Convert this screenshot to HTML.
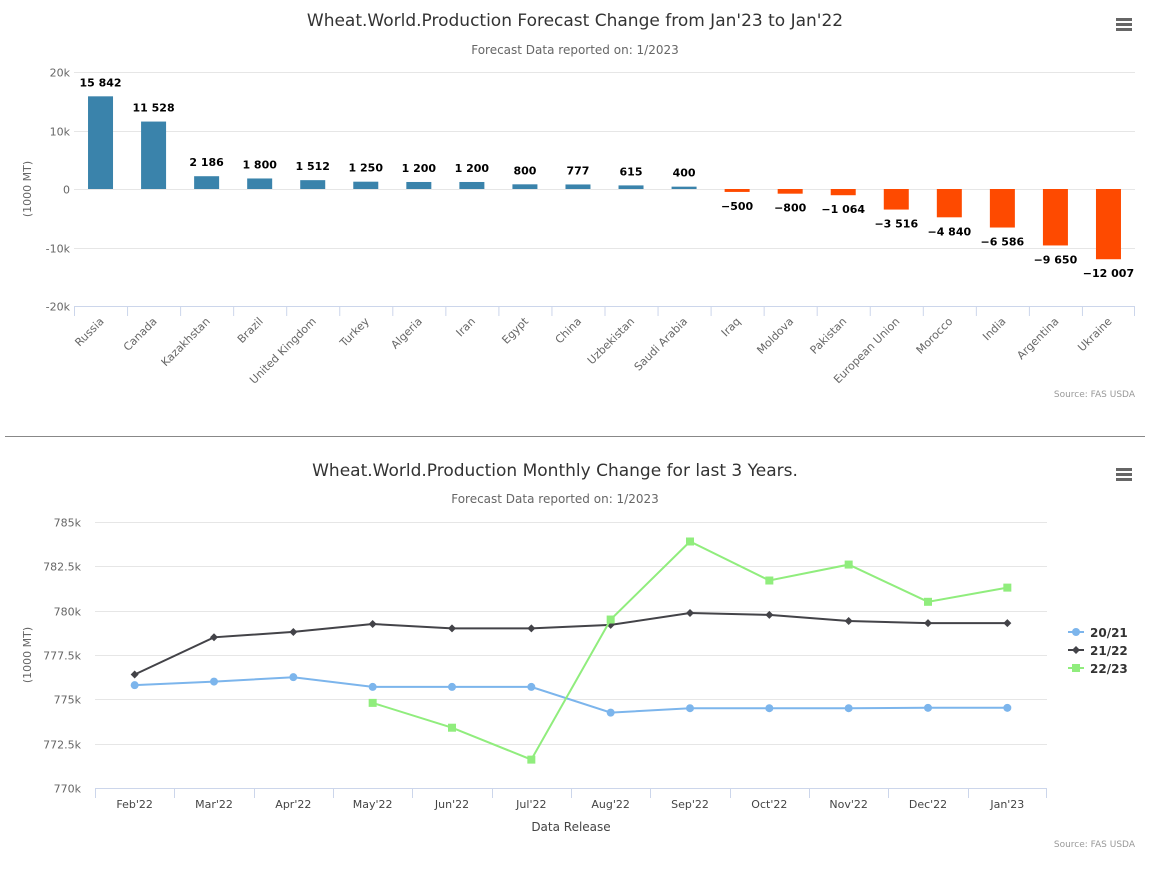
<!DOCTYPE html>
<html><head><meta charset="utf-8">
<style>
body{margin:0;background:#fff;font-family:"DejaVu Sans","Liberation Sans",sans-serif;}
svg{display:block}
text{font-family:"DejaVu Sans","Liberation Sans",sans-serif;}
</style></head>
<body>
<svg id="c" width="1153" height="876" xmlns="http://www.w3.org/2000/svg">
  <rect x="0" y="0" width="1153" height="876" fill="#fff"/>
  <text x="575" y="26" text-anchor="middle" font-size="17" fill="#333">Wheat.World.Production Forecast Change from Jan'23 to Jan'22</text>
  <text x="575" y="54" text-anchor="middle" font-size="12" fill="#666">Forecast Data reported on: 1/2023</text>
  <g><rect x="1116" y="18" width="16" height="3" fill="#666"/><rect x="1116" y="23" width="16" height="3" fill="#666"/><rect x="1116" y="28" width="16" height="3" fill="#666"/></g>
  <text x="31" y="189" text-anchor="middle" font-size="11" fill="#666" transform="rotate(-90 31 189)">(1000 MT)</text>
  <g id="bars"></g>
  <text x="1135" y="397" text-anchor="end" font-size="9" fill="#999">Source: FAS USDA</text>
  <line x1="5" y1="436.5" x2="1145" y2="436.5" stroke="#888" stroke-width="1"/>
  <text x="555" y="476" text-anchor="middle" font-size="17" fill="#333">Wheat.World.Production Monthly Change for last 3 Years.</text>
  <text x="555" y="503" text-anchor="middle" font-size="12" fill="#666">Forecast Data reported on: 1/2023</text>
  <g><rect x="1116" y="468" width="16" height="3" fill="#666"/><rect x="1116" y="473" width="16" height="3" fill="#666"/><rect x="1116" y="478" width="16" height="3" fill="#666"/></g>
  <text x="31" y="655" text-anchor="middle" font-size="11" fill="#666" transform="rotate(-90 31 655)">(1000 MT)</text>
  <text x="571" y="831" text-anchor="middle" font-size="12" fill="#444">Data Release</text>
  <g id="lines"></g>
  <text x="1135" y="847" text-anchor="end" font-size="9" fill="#999">Source: FAS USDA</text>
</svg>
<script>
const barCategories=["Russia","Canada","Kazakhstan","Brazil","United Kingdom","Turkey","Algeria","Iran","Egypt","China","Uzbekistan","Saudi Arabia","Iraq","Moldova","Pakistan","European Union","Morocco","India","Argentina","Ukraine"];
const barValues=[15842,11528,2186,1800,1512,1250,1200,1200,800,777,615,400,-500,-800,-1064,-3516,-4840,-6586,-9650,-12007];
const barTickValues=[20000,10000,0,-10000,-20000];
const barTickLabels=["20k","10k","0","-10k","-20k"];

const lineCategories=["Feb'22","Mar'22","Apr'22","May'22","Jun'22","Jul'22","Aug'22","Sep'22","Oct'22","Nov'22","Dec'22","Jan'23"];
const series2021=[775.8,776.0,776.25,775.7,775.7,775.7,774.25,774.5,774.5,774.5,774.52,774.52];
const series2122=[776.4,778.5,778.8,779.25,779.0,779.0,779.2,779.87,779.76,779.42,779.3,779.3];
const series2223=[null,null,null,774.8,773.4,771.6,779.5,783.9,781.7,782.6,780.5,781.3];
const lineTickValues=[785,782.5,780,777.5,775,772.5,770];
const lineTickLabels=["785k","782.5k","780k","777.5k","775k","772.5k","770k"];
const seriesNames=["20/21","21/22","22/23"];

const NS="http://www.w3.org/2000/svg";
function mk(tag,attrs,parent,txt){const e=document.createElementNS(NS,tag);for(const k in attrs)e.setAttribute(k,attrs[k]);if(txt!==undefined)e.textContent=txt;parent.appendChild(e);return e;}
function fmt(v){const s=Math.abs(v).toString().replace(/\B(?=(\d{3})+(?!\d))/g," ");return (v<0?"−":"")+s;}

// Bar chart
const bg=document.getElementById('bars');
const bL=74,bR=1135,bT=72,bB=306;
const bY=v=>bB-(v-(-20000))/40000*(bB-bT);
const bW=(bR-bL)/barCategories.length;
const bX=i=>bL+bW*(i+0.5);
barTickValues.forEach((v,i)=>{
  const y=Math.round(bY(v))+0.5;
  const gl=mk('line',{x1:bL,x2:bR,y1:y,y2:y,stroke:i==4?'#ccd6eb':'#e6e6e6'},bg);
  
  
  const t=mk('text',{x:bL-4,y:y+4,'text-anchor':'end','font-size':11,fill:'#666'},bg,barTickLabels[i]);
  
  
});
barCategories.forEach((c,i)=>{
  const x0=bL+bW*i;
  const tk=mk('line',{x1:x0+0.5,x2:x0+0.5,y1:bB,y2:bB+10,stroke:'#ccd6eb'},bg);
  
  
  const v=barValues[i];
  const y0=bY(0),y1=bY(v);
  const r=mk('rect',{x:bX(i)-12.5,y:Math.min(y0,y1),width:25,height:Math.max(1,Math.abs(y1-y0)),fill:v>=0?'#3a83ab':'#fe4a00'},bg);
  
  
  const ly=v>=0?y1-10:y1+18;
  const lb=mk('text',{x:bX(i),y:ly,'text-anchor':'middle','font-size':11,fill:'#000','font-weight':'600'},bg,fmt(v));
  
  
  const tx=mk('text',{x:bX(i)+4,y:bB+16,'text-anchor':'end','font-size':11,fill:'#666',transform:`rotate(-45 ${bX(i)+4} ${bB+16})`},bg,c);
  
  
});
mk('line',{x1:bR-0.5,x2:bR-0.5,y1:bB,y2:bB+10,stroke:'#ccd6eb'},bg);

// Line chart
const lg=document.getElementById('lines');
const lL=95,lR=1047,lT=522,lB=788;
const lY=v=>lB-(v-770)/15*(lB-lT);
const lW=(lR-lL)/lineCategories.length;
const lX=i=>lL+lW*(i+0.5);
lineTickValues.forEach((v,i)=>{
  const y=Math.round(lY(v))+0.5;
  const gl=mk('line',{x1:lL,x2:lR,y1:y,y2:y,stroke:i==6?'#ccd6eb':'#e6e6e6'},lg);
  
  
  const t=mk('text',{x:lL-14,y:y+4,'text-anchor':'end','font-size':11,fill:'#666'},lg,lineTickLabels[i]);
  
  
});
lineCategories.forEach((c,i)=>{
  const x0=Math.round(lL+lW*i)+0.5;
  const tk=mk('line',{x1:x0,x2:x0,y1:lB,y2:lB+10,stroke:'#ccd6eb'},lg);
  
  
  const t=mk('text',{x:lX(i),y:lB+20,'text-anchor':'middle','font-size':11,fill:'#444'},lg,c);
  
  
});
mk('line',{x1:lR-0.5,x2:lR-0.5,y1:lB,y2:lB+10,stroke:'#ccd6eb'},lg);

const allSeries=[series2021,series2122,series2223];
const colors=['#7cb5ec','#434348','#90ed7d'];
function marker(kind,x,y,col,parent){
  if(kind==0)return mk('circle',{cx:x,cy:y,r:4,fill:col},parent);
  if(kind==1)return mk('path',{d:`M${x} ${y-4}L${x+4} ${y}L${x} ${y+4}L${x-4} ${y}Z`,fill:col},parent);
  return mk('rect',{x:x-4,y:y-4,width:8,height:8,fill:col},parent);
}
allSeries.forEach((s,k)=>{
  let d='';
  s.forEach((v,i)=>{if(v===null)return;d+=(d?'L':'M')+lX(i).toFixed(1)+' '+lY(v).toFixed(1);});
  const p=mk('path',{d:d,fill:'none',stroke:colors[k],'stroke-width':2},lg);
  
  
  s.forEach((v,i)=>{
    if(v===null)return;
    const m=marker(k,lX(i),lY(v),colors[k],lg);
    
    
  });
  const ly=632+k*18;
  const le=mk('g',{},lg);
  
  
  mk('line',{x1:1068,x2:1084,y1:ly,y2:ly,stroke:colors[k],'stroke-width':2},le);
  marker(k,1076,ly,colors[k],le);
  mk('text',{x:1090,y:ly+5,'font-size':12,'font-weight':'bold',fill:'#333'},le,seriesNames[k]);
});
</script>
</body></html>
